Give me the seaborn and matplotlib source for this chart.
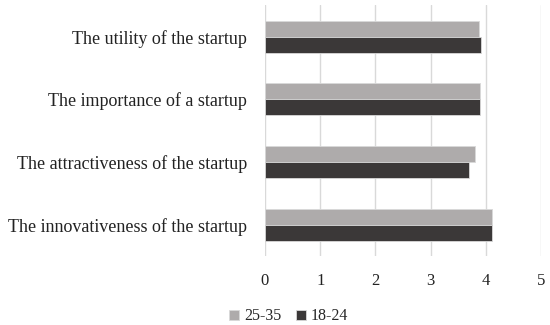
import matplotlib
matplotlib.use("Agg")
import matplotlib.pyplot as plt
import seaborn as sns
import pandas as pd

categories = ["The utility of the startup",
              "The importance of a startup",
              "The attractiveness of the startup",
              "The innovativeness of the startup"]
vals_25_35 = [3.88, 3.90, 3.81, 4.11]
vals_18_24 = [3.91, 3.90, 3.70, 4.12]
groups = ["25-35", "18-24"]
colors = ["#AEABAB", "#3B3838"]

df = pd.DataFrame({
    "category": categories * 2,
    "value": vals_25_35 + vals_18_24,
    "group": [groups[0]] * 4 + [groups[1]] * 4,
})

sns.set_style("white")
plt.rcParams["font.family"] = ["Liberation Serif", "DejaVu Serif"]

fig = plt.figure(figsize=(5.5, 3.25), dpi=100)
ax = fig.add_axes([0.4818, 0.212, 0.5018, 0.772])
sns.barplot(data=df, x="value", y="category", hue="group", hue_order=groups,
            order=categories, palette=colors, orient="h", width=0.51,
            edgecolor="#D9D9D9", linewidth=0.6, ax=ax)

ax.set_xlim(0, 5)
ax.set_xticks([0, 1, 2, 3, 4, 5])
ax.grid(axis="x", color="#D9D9D9", linewidth=1)
ax.set_axisbelow(True)
for s in ax.spines.values():
    s.set_visible(False)
ax.set_xlabel("")
ax.set_ylabel("")
ax.tick_params(axis="x", length=0, pad=12, labelsize=12, colors="#222222")
ax.tick_params(axis="y", length=0, pad=13, labelsize=13, colors="#222222")

leg = ax.legend(loc="center left", bbox_to_anchor=(-0.153, -0.24), ncol=2,
                frameon=False, fontsize=11.5, handlelength=0.6, handleheight=0.6,
                handletextpad=0.35, columnspacing=0.9, borderaxespad=0)

fig.savefig("out.png", dpi=100)
